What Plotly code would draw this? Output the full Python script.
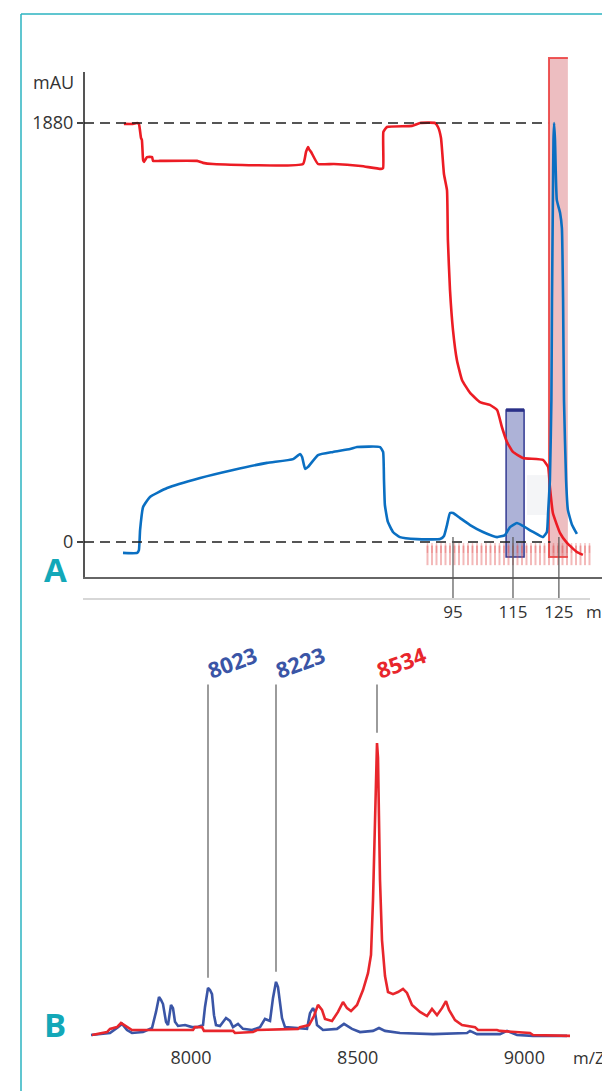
import plotly.graph_objects as go

# ---------------- Panel A : chromatogram (mAU vs elution volume, ml) ----------------
RED_A_ML = [-14.7, -11.7, -10.3, -9.7, -9.0, -8.7, -8.3, -8.0, -7.0, -5.3, -5.0,
            -2.7, 9.7, 11.7, 15.0, 45.0, 46.0, 46.7, 47.0, 47.7, 50.0, 55.3, 64.3,
            71.0, 71.7, 71.8, 73.0, 81.3, 84.0, 89.0, 90.0, 91.0, 92.0, 93.0, 93.3,
            94.0, 95.0, 96.3, 98.0, 100.7, 104.0, 107.3, 109.7, 111.3, 113.0, 115.0,
            118.3, 125.0, 126.7, 127.3, 128.3, 130.7, 133.0, 136.3, 138.3]
RED_A_MAU = [1876, 1876, 1880, 1876, 1813, 1804, 1714, 1705, 1727, 1727, 1710,
             1710, 1710, 1701, 1696, 1696, 1750, 1772, 1763, 1750, 1696, 1696, 1687,
             1674, 1678, 1840, 1862, 1867, 1880, 1880, 1862, 1813, 1650, 1579, 1355,
             1131, 951, 817, 727, 669, 628, 615, 592, 516, 449, 404,
             377, 368, 337, 247, 130, 40, -4, -45, -58]

BLUE_A_ML = [-15.0, -10.3, -9.7, -9.3, -8.3, -6.0, -0.3, 10.7, 21.7, 33.0, 41.7,
             44.0, 44.7, 45.7, 46.7, 50.0, 55.0, 60.7, 63.0, 70.7, 71.7, 72.0, 72.3,
             73.3, 75.0, 77.3, 83.0, 90.7, 92.0, 93.0, 94.0, 95.0, 97.3, 100.7,
             105.0, 109.7, 112.3, 114.0, 116.3, 118.3, 121.7, 125.0, 126.3, 126.7,
             127.3, 127.8, 128.0, 128.3, 128.5, 128.7, 129.0, 129.6, 130.7, 131.3,
             131.7, 132.0, 132.7, 133.3, 134.7, 136.3]
BLUE_A_MAU = [-49, -49, -36, 54, 157, 202, 242, 287, 323, 355, 372,
              395, 381, 328, 337, 390, 404, 417, 426, 426, 404, 278, 166,
              90, 45, 22, 13, 13, 27, 76, 130, 130, 108, 76,
              45, 22, 31, 67, 85, 72, 45, 22, 45, 130,
              278, 637, 1086, 1535, 1804, 1880, 1804, 1535, 1476, 1409,
              1086, 637, 278, 144, 76, 36]

Y_TICKS = [0, 1880]
Y_TICK_TEXT = ["0", "1880"]
X_TICK_POS = [95, 115, 130.3]
X_TICK_TEXT = ["95", "115", "125"]

# collected fractions (ml) shown along the baseline
FRACTION_ML = [86.5, 88, 89.5, 91, 92.5, 94, 95.5, 97, 98.5, 100, 101.5, 103, 104.5,
               106, 107.5, 109, 110.5, 112, 113.5, 115, 116.5, 118, 119.5, 121,
               122.5, 124, 125.5, 127, 128.5, 130, 131.5, 133, 134.5, 136, 137.5,
               139, 140.5]

# pooled fractions: [start ml, end ml, top mAU]
POOL_BLUE = [112.7, 118.7, 592]
POOL_RED = [127.0, 133.3, 2172]
POOL_BOTTOM = -67

# ---------------- Panel B : mass spectra (intensity vs m/z) ----------------
BLUE_B_MZ = [7700, 7757, 7781, 7793, 7808, 7823, 7856, 7883, 7895, 7904, 7910, 7916,
             7925, 7931, 7940, 7946, 7952, 7961, 7982, 8003, 8018, 8036, 8042, 8051,
             8057, 8063, 8069, 8075, 8087, 8105, 8117, 8126, 8141, 8156, 8183, 8207,
             8222, 8237, 8246, 8255, 8261, 8273, 8282, 8306, 8348, 8357, 8366, 8372,
             8378, 8396, 8438, 8459, 8483, 8507, 8546, 8564, 8582, 8627, 8726, 8828,
             8837, 8858, 8927, 8948, 8978, 9026, 9128]
BLUE_B_INT = [0, 0.7, 2.7, 3.8, 1.7, 0.7, 1.0, 2.4, 7.9, 13.0, 12.0, 10.6,
              4.5, 3.4, 10.3, 9.2, 4.5, 3.1, 3.4, 2.7, 2.7, 3.4, 9.6, 16.1,
              15.4, 14.0, 6.8, 3.4, 3.1, 5.8, 4.8, 2.7, 3.8, 2.1, 1.7, 2.7,
              5.5, 4.8, 12.7, 18.2, 16.4, 5.8, 2.7, 2.4, 2.1, 7.5, 9.2, 7.9,
              3.4, 1.7, 2.1, 3.8, 2.1, 1.0, 1.4, 2.4, 1.4, 0.7, 0.3, 0.7,
              1.4, 0.3, 0.3, 1.4, 0, -0.3, -0.3]

RED_B_MZ = [7703, 7748, 7757, 7778, 7790, 7799, 7811, 7823, 8006, 8012, 8033, 8039,
            8126, 8132, 8186, 8198, 8321, 8327, 8354, 8369, 8381, 8393, 8402, 8423,
            8441, 8456, 8468, 8480, 8498, 8516, 8531, 8540, 8546, 8552, 8555, 8558,
            8561, 8564, 8567, 8573, 8582, 8591, 8606, 8621, 8636, 8648, 8663, 8687,
            8708, 8723, 8738, 8753, 8765, 8774, 8792, 8813, 8852, 8861, 8918, 8927,
            9017, 9026, 9137]
RED_B_INT = [0, 1.0, 2.1, 2.7, 4.1, 3.4, 2.4, 1.7, 1.7, 2.7, 2.7, 1.4,
             1.4, 0.7, 1.0, 1.7, 2.1, 2.7, 3.4, 6.5, 10.3, 8.6, 5.5, 4.8,
             7.9, 11.3, 9.2, 8.2, 10.3, 15.4, 21.2, 27.4, 46.2, 77.1, 94.2, 100,
             94.9, 77.1, 53.1, 32.5, 20.2, 14.7, 14.0, 14.7, 15.8, 14.4, 10.3, 7.9,
             6.5, 8.9, 6.8, 9.2, 11.6, 8.6, 5.1, 3.4, 2.7, 1.7, 1.7, 1.4,
             0.7, 0, -0.3]

B_TICKS = [8000, 8500, 9000]
PEAK_POS = [8051, 8255, 8558]
PEAK_INT = [16.1, 18.2, 100]
PEAK_LABELS = ["8023", "8223", "8534"]
PEAK_SERIES = ["blue", "blue", "red"]

# ---------------- styling ----------------
W, H = 602, 1091
FONT = "Open Sans"
RED = "#ec1c24"
BLUE_A = "#0a6fc2"
BLUE_B = "#3a55a6"
RED_B = "#e8262c"
TEAL = "#2bb3c0"
TEAL_TXT = "#13a8b8"
TXT = "#333333"


def px_x(p):
    return p / W


def px_y(p):
    return 1 - p / H


fig = go.Figure()

# Panel A traces
fig.add_trace(go.Scatter(
    x=FRACTION_ML, y=[-27] * len(FRACTION_ML), mode="markers", xaxis="x", yaxis="y",
    marker=dict(symbol="line-ns", size=7, line=dict(color="rgba(225,80,80,0.35)", width=1.5)),
    hoverinfo="skip"))
fig.add_trace(go.Scatter(
    x=FRACTION_ML, y=[-60] * len(FRACTION_ML), mode="markers", xaxis="x", yaxis="y",
    marker=dict(symbol="line-ns", size=14, line=dict(color="rgba(225,80,80,0.4)", width=2)),
    hoverinfo="skip"))
fig.add_trace(go.Scatter(
    x=RED_A_ML, y=RED_A_MAU, mode="lines", xaxis="x", yaxis="y",
    line=dict(color=RED, width=2.6, shape="spline", smoothing=0.4)))
fig.add_trace(go.Scatter(
    x=BLUE_A_ML, y=BLUE_A_MAU, mode="lines", xaxis="x", yaxis="y",
    line=dict(color=BLUE_A, width=2.6, shape="spline", smoothing=0.4)))

# Panel B traces
fig.add_trace(go.Scatter(
    x=BLUE_B_MZ, y=BLUE_B_INT, mode="lines", xaxis="x2", yaxis="y2",
    line=dict(color=BLUE_B, width=2.6)))
fig.add_trace(go.Scatter(
    x=RED_B_MZ, y=RED_B_INT, mode="lines", xaxis="x2", yaxis="y2",
    line=dict(color=RED_B, width=2.6)))

shapes = []
# frame
shapes.append(dict(type="line", xref="paper", yref="paper", x0=px_x(21), x1=px_x(21),
                   y0=px_y(14), y1=0, line=dict(color=TEAL, width=1.5)))
shapes.append(dict(type="line", xref="paper", yref="paper", x0=px_x(21), x1=1,
                   y0=px_y(14), y1=px_y(14), line=dict(color=TEAL, width=1.5)))
# panel A axes
shapes.append(dict(type="line", xref="paper", yref="paper", x0=px_x(84), x1=px_x(84),
                   y0=px_y(72), y1=px_y(579), line=dict(color="#555555", width=2)))
shapes.append(dict(type="line", xref="paper", yref="paper", x0=px_x(83), x1=1,
                   y0=px_y(578), y1=px_y(578), line=dict(color="#666666", width=2)))
shapes.append(dict(type="line", xref="paper", yref="paper", x0=px_x(83), x1=px_x(590),
                   y0=px_y(599), y1=px_y(599), line=dict(color="#b0b0b0", width=1.2)))
# faint background block
shapes.append(dict(type="rect", xref="x", yref="y", x0=119.7, x1=126.7, y0=121, y1=300,
                   fillcolor="#f4f5f7", line=dict(width=0), layer="below"))
# pooled fraction boxes
shapes.append(dict(type="rect", xref="x", yref="y", x0=POOL_BLUE[0], x1=POOL_BLUE[1],
                   y0=POOL_BOTTOM, y1=POOL_BLUE[2], fillcolor="rgba(60,72,160,0.42)",
                   line=dict(color="#323a92", width=1.5), layer="below"))
shapes.append(dict(type="line", xref="x", yref="y", x0=POOL_BLUE[0], x1=POOL_BLUE[1],
                   y0=POOL_BLUE[2], y1=POOL_BLUE[2], line=dict(color="#2a3088", width=3.5)))
shapes.append(dict(type="rect", xref="x", yref="y", x0=POOL_RED[0], x1=POOL_RED[1],
                   y0=POOL_BOTTOM, y1=POOL_RED[2], fillcolor="rgba(214,110,118,0.45)",
                   line=dict(width=0), layer="below"))
shapes.append(dict(type="path", xref="x", yref="y",
                   path=f"M{POOL_RED[1]},{POOL_BOTTOM} L{POOL_RED[0]},{POOL_BOTTOM} "
                        f"L{POOL_RED[0]},{POOL_RED[2]} L{POOL_RED[1]},{POOL_RED[2]}",
                   line=dict(color="rgba(235,60,60,0.85)", width=2), layer="below"))
# dashed reference lines at 0 and 1880
for yv, xe in [(Y_TICKS[1], 126.7), (Y_TICKS[0], 127.5)]:
    shapes.append(dict(type="line", xref="x", yref="y", x0=-28, x1=xe, y0=yv, y1=yv,
                       line=dict(color="#1e1e1e", width=1.4, dash="10px,6px")))
# x tick guide lines
for xv in X_TICK_POS:
    shapes.append(dict(type="line", xref="x", yref="y", x0=xv, x1=xv, y0=22, y1=-251,
                       line=dict(color="#555555", width=1.2)))
# panel B peak pointer lines
for xv, iv in zip(PEAK_POS, PEAK_INT):
    shapes.append(dict(type="line", xref="x2", yref="y2", x0=xv, x1=xv, y0=120,
                       y1=iv + 3.5, line=dict(color="#666666", width=1.3)))

annotations = [
    dict(text="mAU", xref="paper", yref="paper", x=px_x(76), y=px_y(82),
         xanchor="right", yanchor="middle", showarrow=False,
         font=dict(family=FONT, size=18, color=TXT)),
    dict(text="ml", xref="paper", yref="paper", x=px_x(584), y=px_y(612),
         xanchor="left", yanchor="middle", showarrow=False,
         font=dict(family=FONT, size=17, color=TXT)),
    dict(text="m/Z", xref="paper", yref="paper", x=px_x(571), y=px_y(1057),
         xanchor="left", yanchor="middle", showarrow=False,
         font=dict(family=FONT, size=17, color=TXT)),
    dict(text="A", xref="paper", yref="paper", x=px_x(55), y=px_y(569),
         xanchor="center", yanchor="middle", showarrow=False,
         font=dict(family=FONT, size=33, color=TEAL_TXT, weight=700)),
    dict(text="B", xref="paper", yref="paper", x=px_x(55), y=px_y(1024),
         xanchor="center", yanchor="middle", showarrow=False,
         font=dict(family=FONT, size=33, color=TEAL_TXT, weight=700)),
]
for xv, lab, ser in zip(PEAK_POS, PEAK_LABELS, PEAK_SERIES):
    annotations.append(dict(text=lab, xref="x2", yref="y2", x=xv, y=127.7, xshift=24,
                            textangle=-20, showarrow=False, xanchor="center", yanchor="middle",
                            font=dict(family=FONT, size=22, weight=700,
                                      color=BLUE_B if ser == "blue" else RED_B)))

fig.update_layout(
    width=W, height=H, margin=dict(l=0, r=0, t=0, b=0),
    paper_bgcolor="white", plot_bgcolor="rgba(0,0,0,0)", showlegend=False,
    font=dict(family=FONT, color=TXT),
    xaxis=dict(domain=[px_x(84), 1], range=[-28, 144.67], anchor="y",
               showgrid=False, zeroline=False, showline=False, ticks="",
               tickvals=X_TICK_POS, ticktext=X_TICK_TEXT,
               tickfont=dict(family=FONT, size=17, color=TXT)),
    yaxis=dict(domain=[px_y(600), px_y(50)], range=[-260.24, 2207.5], anchor="x",
               showgrid=False, zeroline=False, showline=False, ticks="outside",
               ticklen=6, tickwidth=1.5, tickcolor="#444444",
               tickvals=Y_TICKS, ticktext=Y_TICK_TEXT,
               tickfont=dict(family=FONT, size=18, color=TXT)),
    xaxis2=dict(domain=[px_x(60), 1], range=[7607, 9233], anchor="y2",
                showgrid=False, zeroline=False, showline=False, ticks="",
                tickvals=B_TICKS, ticktext=[str(v) for v in B_TICKS],
                tickfont=dict(family=FONT, size=18, color=TXT)),
    yaxis2=dict(domain=[px_y(1045), px_y(640)], range=[-3.425, 135.27], anchor="x2",
                showgrid=False, zeroline=False, showline=False, showticklabels=False),
    shapes=shapes, annotations=annotations,
)

fig.write_html("out.html")
